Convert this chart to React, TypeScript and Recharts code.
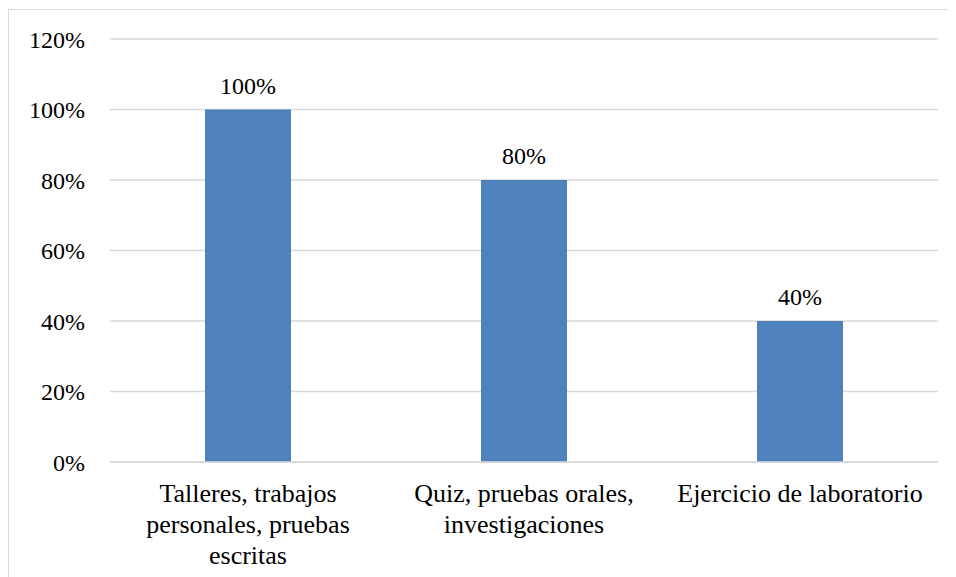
import { Bar, BarChart, CartesianGrid, LabelList, XAxis, YAxis } from "recharts";

const categories = [
  "Talleres, trabajos personales, pruebas escritas",
  "Quiz, pruebas orales, investigaciones",
  "Ejercicio de laboratorio"
];

// how each category label wraps under the axis
const categoryLines = [
  ["Talleres, trabajos", "personales, pruebas", "escritas"],
  ["Quiz, pruebas orales,", "investigaciones"],
  ["Ejercicio de laboratorio"]
];

const percentages = [100, 80, 40];

const yTicks = [0, 20, 40, 60, 80, 100, 120];

const data = categories.map((name, i) => ({
  name,
  value: percentages[i]
}));

const fontFamily = "Liberation Serif";

const css = `
.chart-box svg text, .chart-box svg tspan { font-family: 'Liberation Serif' !important; }
.chart-box .cat-tick, .chart-box .cat-tick tspan { font-size: 26px !important; }
.chart-box .num-text, .chart-box .num-text tspan { font-size: 24px !important; }
`;

function CategoryTick({ x, y, index }: { x: number; y: number; index: number }) {
  const lines = categoryLines[index] ?? [];
  return (
    <text
      className="cat-tick"
      x={x}
      y={y + 40}
      textAnchor="middle"
      fill="#000"
      fontSize={26}
      fontFamily={fontFamily}
      style={{ fontFamily: "'Liberation Serif'", fontSize: 26 }}
    >
      {lines.map((line, i) => (
        <tspan key={line} x={x} dy={i === 0 ? 0 : 31}>
          {line}
        </tspan>
      ))}
    </text>
  );
}

export default function App() {
  return (
    <div
      className="chart-box"
      style={{
        marginTop: 1,
        width: 947,
        height: 567,
        borderLeft: "1px solid #d9d9d9",
        borderTop: "1px solid #d9d9d9",
        background: "#fff",
        fontFamily: "'Liberation Serif'"
      }}
    >
      <style>{css}</style>
      <BarChart
        width={947}
        height={567}
        data={data}
        margin={{ top: 29, right: 18, bottom: 0, left: 0 }}
      >
        <CartesianGrid vertical={false} stroke="#d9d9d9" strokeWidth={1.3} />
        <XAxis
          dataKey="name"
          height={115}
          axisLine={{ stroke: "#d9d9d9", strokeWidth: 1.3 }}
          tickLine={false}
          tickSize={0}
          tickMargin={0}
          interval={0}
          tick={(props: any) => <CategoryTick x={props.x} y={props.y} index={props.index} />}
        />
        <YAxis
          width={101}
          domain={[0, 120]}
          ticks={yTicks}
          axisLine={false}
          tickLine={false}
          tickSize={0}
          tickMargin={25}
          tickFormatter={(v: number) => `${v}%`}
          tick={{ fill: "#000", fontSize: 24, fontFamily, className: "num-text" }}
        />
        <Bar dataKey="value" fill="#4f81bd" barSize={86} isAnimationActive={false}>
          <LabelList
            dataKey="value"
            position="top"
            offset={16}
            formatter={(v: any) => `${v}%`}
            fill="#000"
            fontSize={24}
            fontFamily={fontFamily}
            className="num-text"
          />
        </Bar>
      </BarChart>
    </div>
  );
}
